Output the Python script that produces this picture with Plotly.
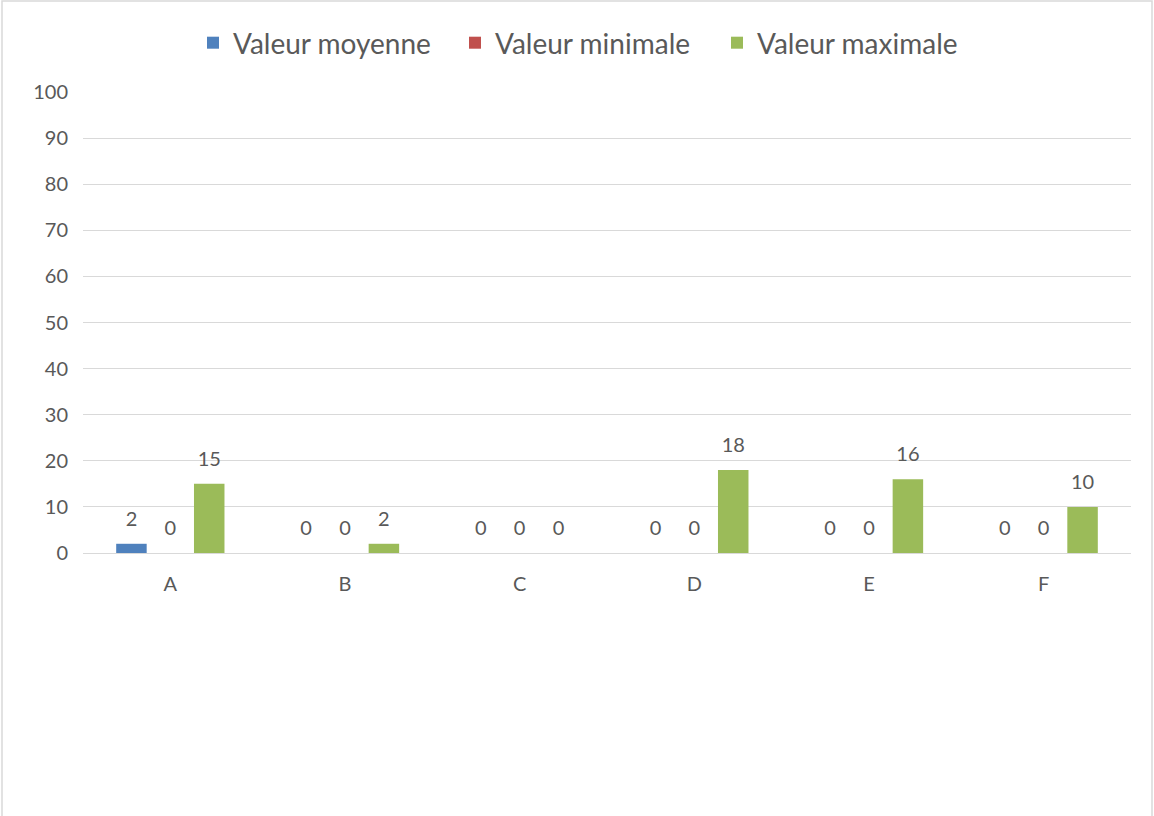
import numpy as np
import plotly.graph_objects as go

categories = ["A", "B", "C", "D", "E", "F"]
series_names = ["Valeur moyenne", "Valeur minimale", "Valeur maximale"]
moyenne = [2, 0, 0, 0, 0, 0]
minimale = [0, 0, 0, 0, 0, 0]
maximale = [15, 2, 0, 18, 16, 10]
colors = ["#4F81BD", "#C0504D", "#9BBB59"]
y_ticks = list(range(0, 101, 10))

W, H = 1154, 816
L, R, T, B = 83, 23, 92, 263
pw, ph = W - L - R, H - T - B

FONT = "Lato"
TXT = "#595959"

fig = go.Figure()
idx = np.arange(len(categories))
spacing = 0.2227
bar_w = 0.1746
label_offset = 5.0
for k, (name, vals, col) in enumerate(zip(series_names, [moyenne, minimale, maximale], colors)):
    xs = idx + (k - 1) * spacing
    v = np.array(vals, dtype=float)
    fig.add_trace(go.Bar(x=xs, y=v, width=bar_w, name=name, marker=dict(color=col, line=dict(width=0)),
                         hoverinfo="y"))
    fig.add_trace(go.Scatter(x=xs, y=v + label_offset, mode="text", text=[str(int(a)) for a in vals],
                             textfont=dict(family=FONT, size=20, color=TXT), showlegend=False,
                             hoverinfo="skip"))

fig.update_layout(
    width=W, height=H,
    margin=dict(l=L, r=R, t=T, b=B),
    paper_bgcolor="white", plot_bgcolor="white",
    barmode="overlay",
    font=dict(family=FONT, color=TXT, size=20),
    legend=dict(orientation="h", x=(586 - L) / pw, xanchor="center", y=(H - B - 43) / ph, yanchor="middle",
                font=dict(family=FONT, size=28, color=TXT), entrywidth=217, entrywidthmode="pixels",
                bgcolor="rgba(0,0,0,0)"),
    xaxis=dict(range=[-0.5, len(categories) - 0.5], tickvals=list(idx), ticktext=categories,
               showgrid=False, zeroline=False, showline=False, ticks="", ticklabelstandoff=17,
               tickfont=dict(family=FONT, size=20, color=TXT), fixedrange=True),
    yaxis=dict(range=[0, 100], tickvals=y_ticks, showgrid=True, gridcolor="#D9D9D9", gridwidth=1,
               zeroline=True, zerolinecolor="#D9D9D9", zerolinewidth=1, showline=False, ticks="",
               ticklabelstandoff=14, tickfont=dict(family=FONT, size=20, color=TXT), fixedrange=True),
    shapes=[dict(type="rect", xref="paper", yref="paper",
                 x0=(2 - L) / pw, x1=(1152 - L) / pw, y0=(H - B - 830) / ph, y1=(H - B - 1) / ph,
                 line=dict(color="#D9D9D9", width=1.5), fillcolor="rgba(0,0,0,0)", layer="below")],
)

fig.write_html("out.html", config={"displayModeBar": False},
               post_script="document.body.style.margin='0';document.body.style.overflow='hidden';")
